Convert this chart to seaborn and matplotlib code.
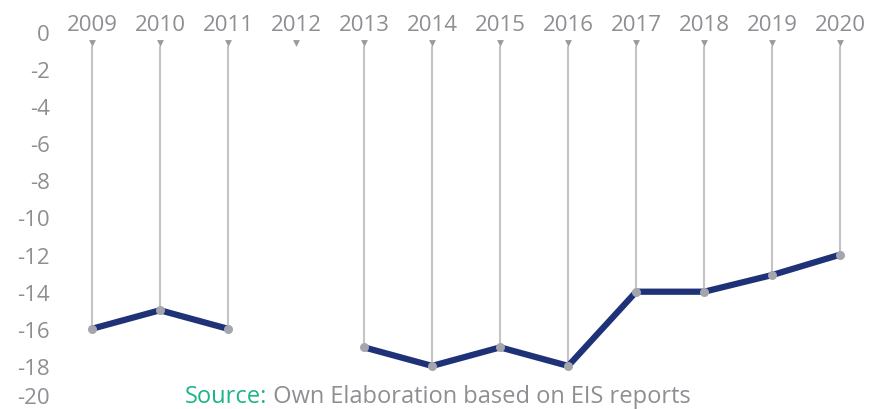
import numpy as np
import pandas as pd
import seaborn as sns
import matplotlib.pyplot as plt
import matplotlib.transforms as mtransforms

# Values (2012 has no data)
years = ['2009', '2010', '2011', '2012', '2013', '2014', '2015', '2016',
         '2017', '2018', '2019', '2020']
values = [-16, -15, -16, np.nan, -17, -18, -17, -18, -14, -14, -13.1, -12]
yticks = [0, -2, -4, -6, -8, -10, -12, -14, -16, -18, -20]

gray_text = '#8e8e93'
stem_gray = '#c4c4c6'
navy = '#1f3278'
green = '#1db38b'

sns.set_theme(style='white')
plt.rcParams['font.family'] = ['Open Sans', 'DejaVu Sans']

df = pd.DataFrame({'year': years, 'value': values})
df['pos'] = range(len(years))
# split into separate segments so the gap at 2012 stays open
df['segment'] = df['value'].isna().cumsum()
df = df.dropna(subset=['value'])

fig = plt.figure(figsize=(8.77, 4.10), dpi=100)
ax = fig.add_axes([0.066, 0.0146, 0.931, 0.905])

# stems from the top down to each point
ax.vlines(df['pos'], -0.75, df['value'], color=stem_gray, lw=1.5, zorder=1)
ax.scatter(range(len(years)), [-0.6] * len(years), marker='v', s=24,
           color='#9a9a9e', linewidths=0, zorder=2)

sns.lineplot(data=df, x='pos', y='value', units='segment', estimator=None,
             color=navy, lw=4.5, ax=ax, zorder=3, legend=False)
ax.scatter(df['pos'], df['value'], s=42, color='#a4a5ad', linewidths=0, zorder=4)

ax.set_xlim(-0.5, len(years) - 0.5)
ax.set_ylim(-20, 0)
ax.set_yticks(yticks)
ax.set_yticklabels([str(v) for v in yticks])
ax.xaxis.tick_top()
ax.set_xticks(range(len(years)))
ax.set_xticklabels(years)
ax.tick_params(axis='both', length=0, labelsize=16, colors=gray_text)
ax.tick_params(axis='x', pad=-2)
ax.tick_params(axis='y', pad=6)
ax.set_xlabel('')
ax.set_ylabel('')
sns.despine(ax=ax, left=True, bottom=True, top=True, right=True)

# nudge the bottom label up so it stays inside the figure
last = ax.get_yticklabels()[-1]
last.set_transform(last.get_transform() +
                   mtransforms.ScaledTranslation(0, 8 / 100, fig.dpi_scale_trans))

src = fig.text(185 / 877, 7 / 410, 'Source:', color=green, fontsize=17,
               ha='left', va='baseline')
ax.annotate(' Own Elaboration based on EIS reports', xy=(1, 0),
            xycoords=src, va='bottom', ha='left', fontsize=17, color=gray_text,
            annotation_clip=False)

fig.savefig('out.png', dpi=100)
